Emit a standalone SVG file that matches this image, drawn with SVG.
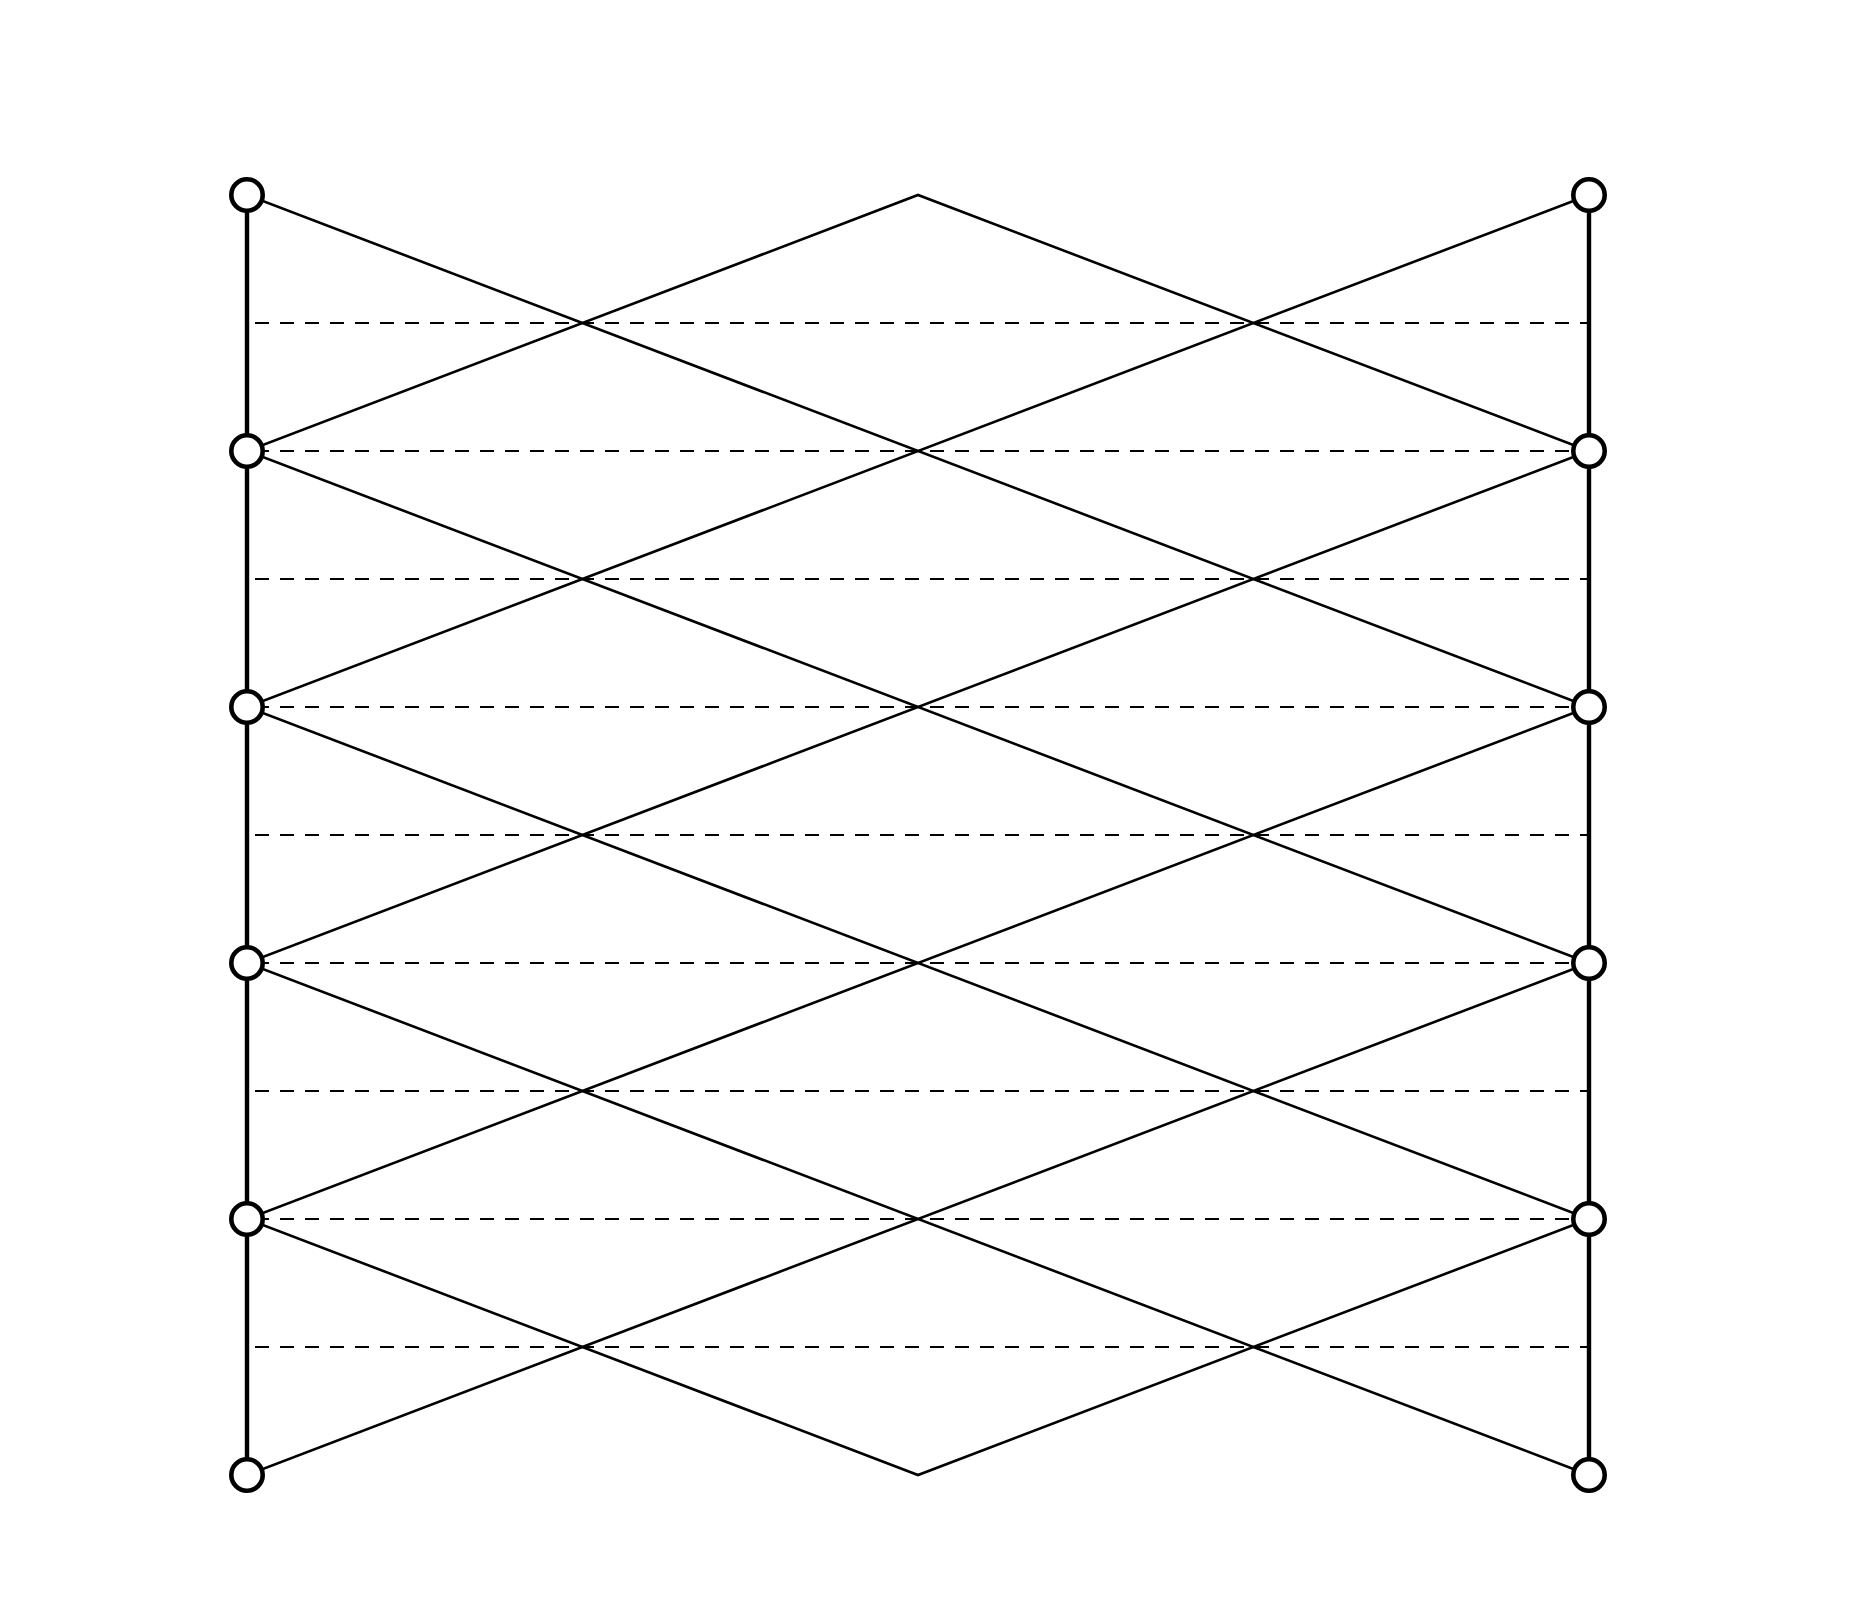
<svg xmlns="http://www.w3.org/2000/svg" width="1854" height="1609" viewBox="0 0 1854 1609">
<style>
.dash{stroke:#000;stroke-width:1.8;stroke-dasharray:14 11;fill:none}
.diag{stroke:#000;stroke-width:2.6;fill:none}
.rail{stroke:#000;stroke-width:4.4;fill:none}
.node{fill:#fff;stroke:#000;stroke-width:4.6}
</style>
<rect width="1854" height="1609" fill="#fff"/>
<g id="connectors">
<g id="dashed">
<line class="dash" x1="255" y1="323" x2="1587" y2="323"/>
<line class="dash" x1="255" y1="451" x2="1587" y2="451"/>
<line class="dash" x1="255" y1="579" x2="1587" y2="579"/>
<line class="dash" x1="255" y1="707" x2="1587" y2="707"/>
<line class="dash" x1="255" y1="835" x2="1587" y2="835"/>
<line class="dash" x1="255" y1="963" x2="1587" y2="963"/>
<line class="dash" x1="255" y1="1091" x2="1587" y2="1091"/>
<line class="dash" x1="255" y1="1219" x2="1587" y2="1219"/>
<line class="dash" x1="255" y1="1347" x2="1587" y2="1347"/>
</g>
<line class="rail" x1="247" y1="195" x2="247" y2="1475"/>
<line class="rail" x1="1589" y1="195" x2="1589" y2="1475"/>
<line class="diag" x1="247" y1="195" x2="1589" y2="707"/>
<line class="diag" x1="247" y1="451" x2="1589" y2="963"/>
<line class="diag" x1="247" y1="707" x2="1589" y2="1219"/>
<line class="diag" x1="247" y1="963" x2="1589" y2="1475"/>
<line class="diag" x1="247" y1="707" x2="1589" y2="195"/>
<line class="diag" x1="247" y1="963" x2="1589" y2="451"/>
<line class="diag" x1="247" y1="1219" x2="1589" y2="707"/>
<line class="diag" x1="247" y1="1475" x2="1589" y2="963"/>
<polyline class="diag" points="247,451 918,195 1589,451"/>
<polyline class="diag" points="247,1219 918,1475 1589,1219"/>
</g>
<g id="L0"><circle class="node" cx="247" cy="195" r="15.7"/></g>
<g id="L1"><circle class="node" cx="247" cy="451" r="15.7"/></g>
<g id="L2"><circle class="node" cx="247" cy="707" r="15.7"/></g>
<g id="L3"><circle class="node" cx="247" cy="963" r="15.7"/></g>
<g id="L4"><circle class="node" cx="247" cy="1219" r="15.7"/></g>
<g id="L5"><circle class="node" cx="247" cy="1475" r="15.7"/></g>
<g id="R0"><circle class="node" cx="1589" cy="195" r="15.7"/></g>
<g id="R1"><circle class="node" cx="1589" cy="451" r="15.7"/></g>
<g id="R2"><circle class="node" cx="1589" cy="707" r="15.7"/></g>
<g id="R3"><circle class="node" cx="1589" cy="963" r="15.7"/></g>
<g id="R4"><circle class="node" cx="1589" cy="1219" r="15.7"/></g>
<g id="R5"><circle class="node" cx="1589" cy="1475" r="15.7"/></g>
</svg>
